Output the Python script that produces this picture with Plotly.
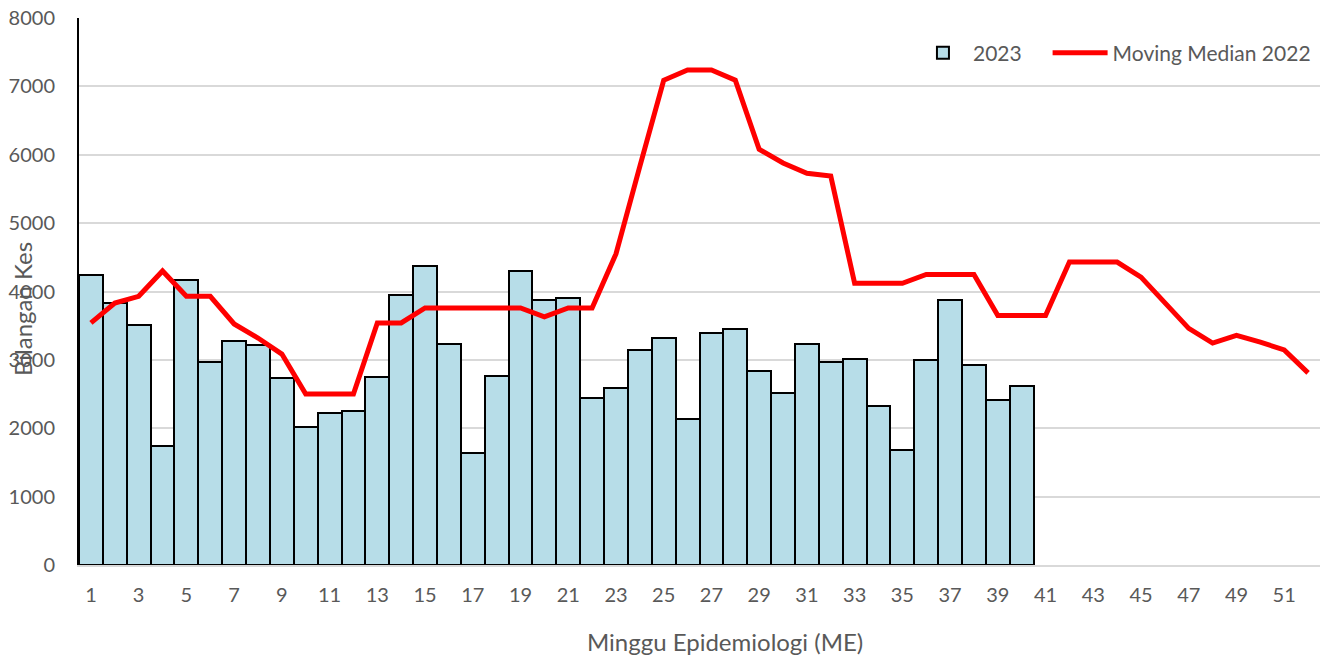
import plotly.graph_objects as go

# Minggu epidemiologi
weeks = list(range(1, 53))
weeks_2023 = list(range(1, 41))

# Bilangan kes 2023 (ME 1-40)
cases_2023 = [4240, 3830, 3510, 1740, 4170, 2970, 3275, 3215, 2735, 2020,
              2220, 2250, 2750, 3950, 4370, 3230, 1640, 2765, 4300, 3875,
              3900, 2440, 2590, 3145, 3320, 2135, 3390, 3450, 2835, 2515,
              3230, 2970, 3010, 2325, 1680, 3000, 3875, 2925, 2410, 2615]

# Moving median 2022 (ME 1-52)
median_2022 = [3540, 3830, 3930, 4300, 3930, 3930, 3525, 3320, 3085, 2500,
               2500, 2500, 3540, 3540, 3760, 3760, 3760, 3760, 3760, 3630,
               3760, 3760, 4550, 5830, 7090, 7240, 7240, 7090, 6080, 5880,
               5730, 5690, 4120, 4120, 4120, 4250, 4250, 4250, 3650, 3650,
               3650, 4430, 4430, 4430, 4210, 3830, 3460, 3245, 3360, 3260,
               3145, 2810]

tick_weeks = list(range(1, 53, 2))

font_name = "Lato"
grey = "#595959"

fig = go.Figure()
fig.add_trace(go.Bar(x=weeks_2023, y=cases_2023, name="2023", width=1, legend="legend",
                     showlegend=True,
                     marker=dict(color="#B7DDE8", line=dict(color="black", width=2))))
fig.add_trace(go.Scatter(x=weeks, y=median_2022, name="Moving Median 2022", mode="lines",
                         legend="legend2", showlegend=True, line=dict(color="#FF0000", width=5)))

# page body has an 8px margin, so the figure is a bit smaller than the window
fig.update_layout(width=1328, height=649, plot_bgcolor="white", paper_bgcolor="white",
                  margin=dict(l=71, r=16, t=10, b=92),
                  font=dict(family=font_name, size=20, color=grey),
                  bargap=0, showlegend=True,
                  legend=dict(x=0.672, xanchor="left", y=0.936, yanchor="middle",
                              bgcolor="rgba(0,0,0,0)", font=dict(size=21, color=grey),
                              itemwidth=50),
                  legend2=dict(x=0.7805, xanchor="left", y=0.936, yanchor="middle",
                               bgcolor="rgba(0,0,0,0)", font=dict(size=21, color=grey),
                               itemwidth=55),
                  annotations=[dict(text="Bilangan Kes", xref="paper", yref="paper",
                                    x=-0.046, y=0.468, xanchor="center", yanchor="middle",
                                    textangle=-90, showarrow=False,
                                    font=dict(size=24, color=grey)),
                               dict(text="Minggu Epidemiologi (ME)", xref="paper", yref="paper",
                                    x=0.5206, y=-0.139, xanchor="center", yanchor="middle",
                                    showarrow=False, font=dict(size=24, color=grey))])

fig.update_xaxes(range=[0.5, 52.5], tickmode="array", tickvals=tick_weeks,
                 ticks="outside", ticklen=11, tickcolor="rgba(0,0,0,0)",
                 showgrid=False, zeroline=False, automargin=False, ticklabeloverflow="allow",
                 showline=True, linecolor="#D9D9D9", linewidth=2)
fig.update_yaxes(range=[0, 8000], dtick=1000, showgrid=True, gridcolor="#D9D9D9", gridwidth=2,
                 zeroline=False, showline=True, linecolor="black", linewidth=2, automargin=False,
                 ticks="", ticklabelstandoff=18, ticklabeloverflow="allow")

fig.write_html("out.html")
